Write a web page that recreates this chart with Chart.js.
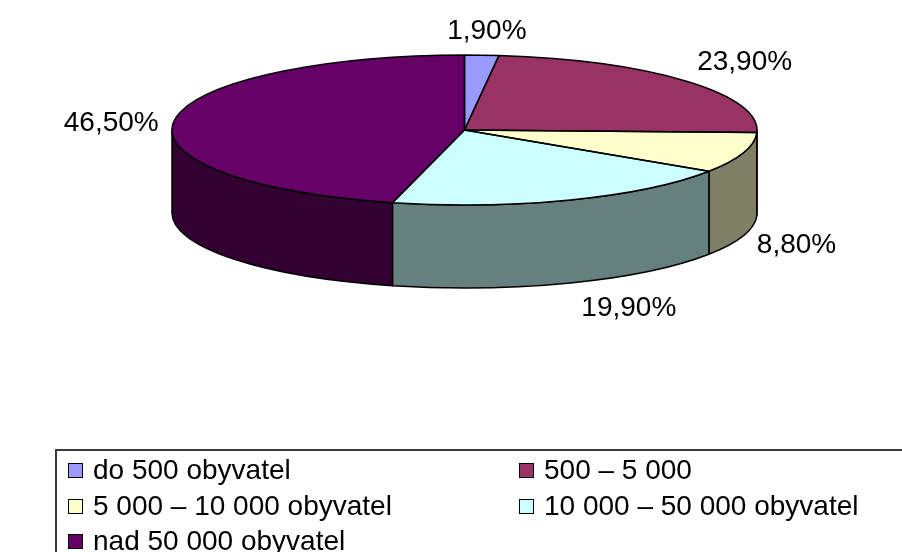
<!DOCTYPE html>
<html>
<head>
<meta charset="utf-8">
<script src="https://cdn.jsdelivr.net/npm/chart.js@4.4.0/dist/chart.umd.min.js"></script>
<style>
  html, body { margin: 0; padding: 0; background: #fff; overflow: hidden; }
  #wrap { position: relative; width: 902px; height: 552px; }
  #pie { position: absolute; left: 0; top: 0; }
  #legend {
    position: absolute; left: 55px; top: 449px; width: 900px; height: 200px;
    border-top: 2px solid #3a3a3a; border-left: 2px solid #3a3a3a;
    font-family: 'Liberation Sans', Arial, sans-serif; font-size: 28px; color: #000;
  }
  .item { position: absolute; display: flex; align-items: center; white-space: nowrap; height: 34px; }
  .swatch { width: 13px; height: 13px; border: 1.5px solid #000; margin-right: 10px; flex: none; }
</style>
</head>
<body>
<div id="wrap">
  <canvas id="pie" width="902" height="552"></canvas>
  <div id="legend"></div>
</div>
<script>
/* population-size share, 3D pie */
const categories = ['do 500 obyvatel', '500 – 5 000', '5 000 – 10 000 obyvatel', '10 000 – 50 000 obyvatel', 'nad 50 000 obyvatel'];
const shares = [1.9, 23.9, 8.8, 19.9, 46.5];
const sliceColors = ['#9999FF', '#993366', '#FFFFCC', '#CCFFFF', '#660066'];
// small hand nudges for the outside labels (px)
const labelNudge = [[2, -2], [13, -5], [4, 3], [37, 5], [-4, 5]];

function pctText(v) { return v.toFixed(2).replace('.', ',') + '%'; }

// side walls are the top colour at half brightness
function shade(hex) {
  const n = parseInt(hex.slice(1), 16);
  const r = (n >> 16) >> 1, g = ((n >> 8) & 255) >> 1, b = (n & 255) >> 1;
  return 'rgb(' + r + ',' + g + ',' + b + ')';
}

const pie3d = {
  id: 'pie3d',
  geom(chart, o) {
    const a = chart.chartArea;
    const rx = (a.right - a.left) / 2, ry = rx * o.tilt;
    return { cx: (a.left + a.right) / 2, cy: a.top + ry, rx, ry, depth: o.depth };
  },
  beforeDatasetsDraw(chart, args, o) {
    const ctx = chart.ctx, g = this.geom(chart, o);
    const arcs = chart.getDatasetMeta(0).data;
    ctx.save();
    ctx.lineWidth = 1.5; ctx.strokeStyle = '#000'; ctx.lineJoin = 'round';
    arcs.forEach((el, i) => {
      // only the front half (canvas angles 0..PI) of the wall is visible
      const s = Math.max(el.startAngle, 0), e = Math.min(el.endAngle, Math.PI);
      if (e <= s) return;
      ctx.beginPath();
      ctx.ellipse(g.cx, g.cy, g.rx, g.ry, 0, s, e);
      ctx.lineTo(g.cx + g.rx * Math.cos(e), g.cy + g.depth + g.ry * Math.sin(e));
      ctx.ellipse(g.cx, g.cy + g.depth, g.rx, g.ry, 0, e, s, true);
      ctx.closePath();
      ctx.fillStyle = shade(sliceColors[i]);
      ctx.fill();
      ctx.stroke();
    });
    ctx.restore();
    // squash the library's circle into the tilted top face
    const el0 = arcs[0];
    ctx.save();
    ctx.translate(g.cx, g.cy);
    ctx.scale(g.rx / el0.outerRadius, g.ry / el0.outerRadius);
    ctx.translate(-el0.x, -el0.y);
  },
  afterDatasetsDraw(chart, args, o) {
    const ctx = chart.ctx, g = this.geom(chart, o);
    ctx.restore();
    const arcs = chart.getDatasetMeta(0).data;
    ctx.save();
    ctx.lineWidth = 1.5; ctx.strokeStyle = '#000'; ctx.lineJoin = 'round';
    arcs.forEach(el => {
      ctx.beginPath();
      ctx.moveTo(g.cx, g.cy);
      ctx.ellipse(g.cx, g.cy, g.rx, g.ry, 0, el.startAngle, el.endAngle);
      ctx.closePath();
      ctx.stroke();
    });
    // outside labels
    ctx.font = '28px "Liberation Sans", Arial, sans-serif';
    ctx.fillStyle = '#000';
    ctx.textAlign = 'center';
    ctx.textBaseline = 'middle';
    arcs.forEach((el, i) => {
      const a = (el.startAngle + el.endAngle) / 2;
      const c = Math.cos(a), s = Math.sin(a);
      const txt = pctText(shares[i]);
      const w = ctx.measureText(txt).width, h = 20;
      let x = g.cx + (g.rx + o.gap) * c;
      let y = g.cy + (g.ry + o.gap) * s + (s > 0 ? g.depth : 0);
      x += c * w / 2 + labelNudge[i][0];
      y += s * h / 2 + labelNudge[i][1];
      ctx.fillText(txt, x, y);
    });
    ctx.restore();
  }
};

new Chart(document.getElementById('pie'), {
  type: 'pie',
  data: {
    labels: categories,
    datasets: [{ data: shares, backgroundColor: sliceColors, borderWidth: 0 }]
  },
  options: {
    responsive: false, animation: false, events: [],
    layout: { padding: { left: 172, right: 145, top: 55, bottom: 297 } },
    plugins: {
      legend: { display: false },
      tooltip: { enabled: false },
      pie3d: { tilt: 0.2564, depth: 83, gap: 12 }
    }
  },
  plugins: [pie3d]
});

// legend: two columns, row by row
const legend = document.getElementById('legend');
const colLeft = [11, 462], rowTop = [2, 38, 73];
legend.innerHTML = categories.map((name, i) =>
  '<div class="item" style="left:' + colLeft[i % 2] + 'px;top:' + rowTop[Math.floor(i / 2)] + 'px">' +
  '<span class="swatch" style="background:' + sliceColors[i] + '"></span>' + name + '</div>'
).join('');
</script>
</body>
</html>
